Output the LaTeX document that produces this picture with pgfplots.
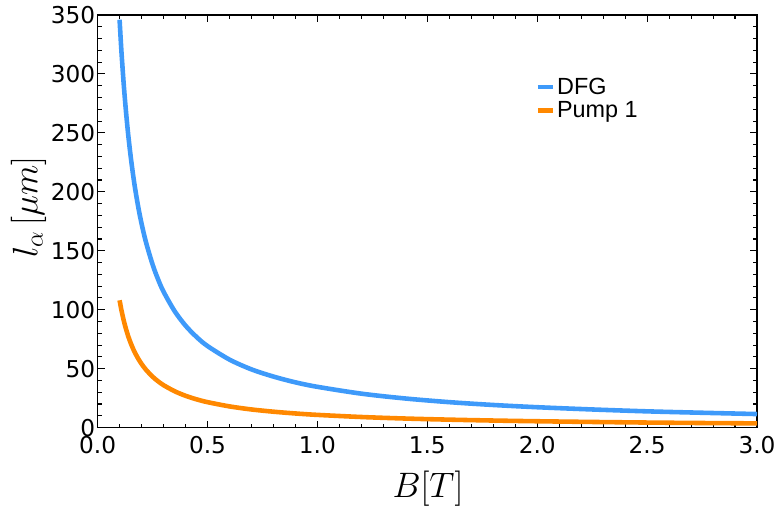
\RequirePackage{fix-cm}
\documentclass[border=0pt]{standalone}
\usepackage{pgfplots}
\pgfplotsset{compat=1.18}
\usepackage{fontspec}
\setmainfont{DejaVu Sans}
\newfontfamily\legfont{Liberation Sans}
\definecolor{cblue}{RGB}{62,154,250}
\definecolor{corange}{RGB}{255,136,0}
\begin{document}
\begin{tikzpicture}
\begin{axis}[
  name=ax,
  scale only axis,
  width=660bp, height=413bp,
  xmin=0, xmax=3, ymin=0, ymax=350,
  xtick={0,0.5,...,3}, ytick={0,50,...,350},
  minor x tick num=4, minor y tick num=4,
  xticklabels={0.0,0.5,1.0,1.5,2.0,2.5,3.0},
  tick align=inside,
  major tick length=7bp, minor tick length=4bp,
  tick style={black, line width=1.1pt},
  axis line style={black, line width=1.4pt},
  /pgf/number format/assume math mode=true,
  ticklabel style={font=\fontsize{23.3}{26}\selectfont},
  xticklabel style={yshift=-5bp},
  yticklabel style={xshift=1bp},
  xlabel={$B[T]$},
  ylabel={$l_\alpha\,[\mu m]$},
  label style={font=\fontsize{35.5}{40}\selectfont},
  xlabel style={at={(axis description cs:0.501,-0.148)}, anchor=center},
  ylabel style={at={(axis description cs:-0.1048,0.534)}, anchor=center},
  legend style={draw=none, fill=none, at={(0.664,0.853)}, anchor=north west,
    font=\legfont\fontsize{23.5}{25}\selectfont, row sep=2bp, inner sep=0pt,
    /tikz/every even column/.append style={column sep=0bp}},
  legend cell align=left,
  legend image code/.code={\draw[line width=4.5pt] (0bp,0bp) -- (15bp,0bp);},
]
\addplot[cblue, line width=4.6pt, smooth] coordinates {
(0.1,346) (0.105,329.5) (0.11,314.5) (0.12,288.3) (0.13,266.2) (0.14,247.1) (0.15,230.7)
(0.16,216.3) (0.17,203.5) (0.185,187) (0.2,173) (0.22,157.3) (0.25,138.4) (0.275,125.8) (0.3,115.3) (0.35,98.9)
(0.4,86.5) (0.45,76.9) (0.5,69.2) (0.6,57.7) (0.7,49.4) (0.8,43.3) (0.9,38.4)
(1.0,34.6) (1.2,28.8) (1.4,24.7) (1.6,21.6) (1.8,19.2) (2.0,17.3) (2.25,15.4)
(2.5,13.8) (2.75,12.6) (3.0,11.5)};
\addlegendentry{DFG}
\addplot[corange, line width=4.6pt, smooth] coordinates {
(0.1,108) (0.105,102.9) (0.11,98.2) (0.12,90) (0.13,83.1) (0.14,77.1) (0.15,72)
(0.16,67.5) (0.17,63.5) (0.185,58.4) (0.2,54) (0.22,49.1) (0.25,43.2) (0.275,39.3) (0.3,36) (0.35,30.9)
(0.4,27) (0.45,24) (0.5,21.6) (0.6,18) (0.7,15.4) (0.8,13.5) (0.9,12)
(1.0,10.8) (1.2,9) (1.4,7.7) (1.6,6.75) (1.8,6) (2.0,5.4) (2.25,4.8)
(2.5,4.3) (2.75,3.9) (3.0,3.6)};
\addlegendentry{Pump 1}
\end{axis}
\path (ax.south west) ++(-97.7bp,-87bp) coordinate (bbA);
\path (ax.north east) ++(20bp,15bp) coordinate (bbB);
\pgfresetboundingbox
\path[use as bounding box] (bbA) rectangle (bbB);
\end{tikzpicture}
\end{document}
